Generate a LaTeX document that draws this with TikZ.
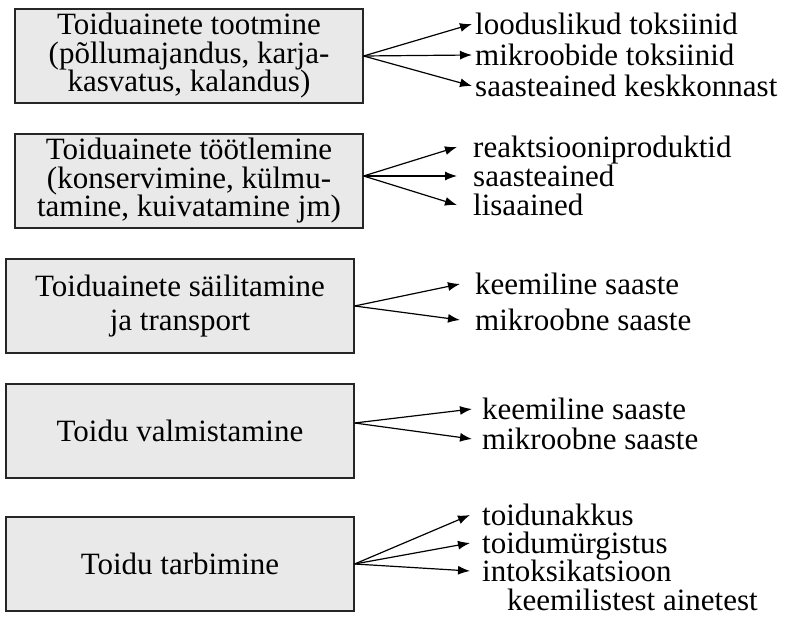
\documentclass[tikz,border=0pt]{standalone}
\usepackage{fontspec}
\setmainfont{Liberation Serif}
\usetikzlibrary{arrows.meta}
\lineskiplimit=-20pt
\lineskip=0pt

\begin{document}
\begin{tikzpicture}[x=1pt,y=-1pt,
        box/.style={draw=black!85, line width=1.2pt, fill=gray!17, minimum width=348pt, minimum height=94pt, inner sep=0pt, align=center, font=\fontsize{31}{28.5}\selectfont},
        lbl/.style={anchor=west, inner sep=0pt, text height=21pt, text depth=0pt, font=\fontsize{31}{31}\selectfont},
        arr/.style={line width=1.2pt, -{Latex[length=12pt,width=9pt]}}]
        % Page size
        \useasboundingbox (0,0) rectangle (785,617);
        % Stages of the food chain
        \node[box] (tootmine) at (189,56) {Toiduainete tootmine\\(põllumajandus, karja-\\kasvatus, kalandus)};
        \node[box] (tootlemine) at (189,181) {Toiduainete töötlemine\\(konservimine, külmu-\\tamine, kuivatamine jm)};
        \node[box, font=\fontsize{31}{34}\selectfont] (sailitamine) at (180,306) {Toiduainete säilitamine\\ja transport};
        \node[box] (valmistamine) at (180,431) {Toidu valmistamine};
        \node[box] (tarbimine) at (180,564) {Toidu tarbimine};
        % Hazards on the right
        \node[lbl] (looduslikud) at (475,24) {looduslikud toksiinid};
        \node[lbl] (mikroobide) at (475,55) {mikroobide toksiinid};
        \node[lbl] (keskkonnast) at (475,86) {saasteained keskkonnast};
        \node[lbl] (reaktsioon) at (473,147) {reaktsiooniproduktid};
        \node[lbl] (saasteained) at (473,176) {saasteained};
        \node[lbl] (lisaained) at (473,205) {lisaained};
        \node[lbl] (keemiline3) at (475,284) {keemiline saaste};
        \node[lbl] (mikroobne3) at (475,320) {mikroobne saaste};
        \node[lbl] (keemiline4) at (482,409) {keemiline saaste};
        \node[lbl] (mikroobne4) at (482,439) {mikroobne saaste};
        \node[lbl] (toidunakkus) at (482,515) {toidunakkus};
        \node[lbl] (murgistus) at (482,543) {toidumürgistus};
        \node[lbl] (intoks) at (482,571) {intoksikatsioon};
        \node[lbl] (ainetest) at (507,600) {keemilistest ainetest};
        % Draw arrows
        \foreach \t in {looduslikud,mikroobide,keskkonnast}
            \draw[arr] (tootmine.east) -- ([xshift=-3pt]\t.west);
        \foreach \t in {reaktsioon,saasteained,lisaained}
            \draw[arr] ([yshift=5pt]tootlemine.east) -- ([xshift=-16pt]\t.west);
        \foreach \t in {keemiline3,mikroobne3}
            \draw[arr] (sailitamine.east) -- ([xshift=-15pt]\t.west);
        \foreach \t in {keemiline4,mikroobne4}
            \draw[arr] ([yshift=8pt]valmistamine.east) -- ([xshift=-10pt]\t.west);
        \foreach \t in {toidunakkus,murgistus,intoks}
            \draw[arr] (tarbimine.east) -- ([xshift=-12pt]\t.west);
    \end{tikzpicture}
\end{document}
